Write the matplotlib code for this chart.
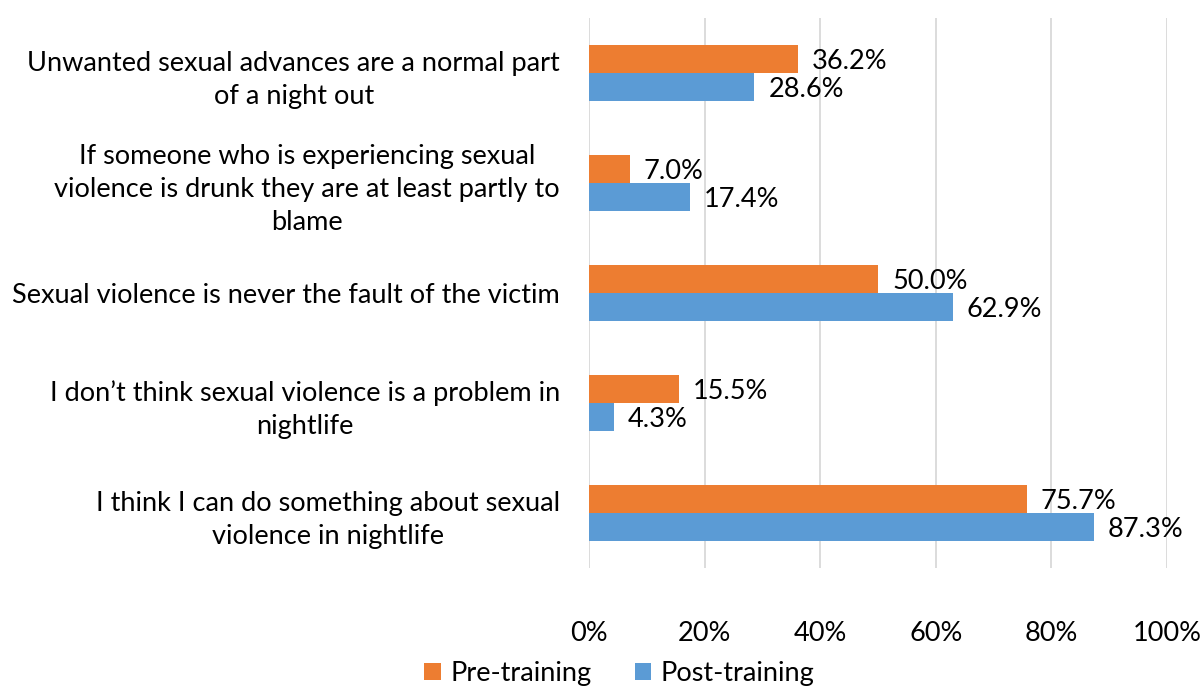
from matplotlib import pyplot as plt
from matplotlib.ticker import MultipleLocator, FuncFormatter
import numpy as np

plt.rcParams['font.family'] = ['Lato', 'DejaVu Sans']

statements = [
    "Unwanted sexual advances are a normal part\nof a night out",
    "If someone who is experiencing sexual\nviolence is drunk they are at least partly to\nblame",
    "Sexual violence is never the fault of the victim",
    "I don\u2019t think sexual violence is a problem in\nnightlife",
    "I think I can do something about sexual\nviolence in nightlife",
]
pre_training = [36.2, 7.0, 50.0, 15.5, 75.7]
post_training = [28.6, 17.4, 62.9, 4.3, 87.3]

orange = '#ED7D31'
blue = '#5B9BD5'
fs = 19.5

fig = plt.figure(figsize=(12, 6.88), dpi=100)
ax = fig.add_axes([0.491, 0.1744, 0.4815, 0.7994])

y = np.arange(len(statements))
h = 0.255
bars_pre = ax.barh(y - h / 2, pre_training, height=h, color=orange, label='Pre-training', zorder=3)
bars_post = ax.barh(y + h / 2, post_training, height=h, color=blue, label='Post-training', zorder=3)

for bars in (bars_pre, bars_post):
    for b in bars:
        val = b.get_width()
        ax.annotate('%.1f%%' % val, (val, b.get_y() + b.get_height() / 2),
                    xytext=(10, -1.5), textcoords='offset points',
                    ha='left', va='center', fontsize=fs, color='black')

ax.set_xlim(0, 100)
ax.set_ylim(len(statements) - 0.5, -0.5)
ax.xaxis.set_major_locator(MultipleLocator(20))
ax.xaxis.set_major_formatter(FuncFormatter(lambda v, p: '%d%%' % v))
ax.grid(axis='x', color='#D9D9D9', lw=1.3, zorder=0)
ax.set_yticks(y)
ax.set_yticklabels(statements, multialignment='center', linespacing=1.4)
ax.tick_params(axis='y', length=0, pad=21, labelsize=fs)
ax.tick_params(axis='x', length=0, pad=38, labelsize=fs)
for s in ax.spines.values():
    s.set_visible(False)

fig.legend(handles=[bars_pre, bars_post], loc='center', bbox_to_anchor=(0.516, 0.021),
           ncol=2, frameon=False, fontsize=fs, handlelength=0.6, handleheight=0.6,
           columnspacing=1.6, handletextpad=0.35)

fig.savefig('out.png', dpi=100)
